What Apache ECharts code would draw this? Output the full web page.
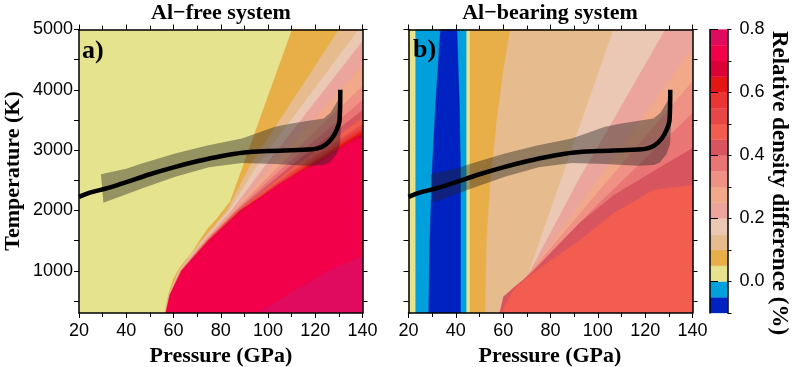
<!DOCTYPE html>
<html><head><meta charset="utf-8">
<script src="https://cdn.jsdelivr.net/npm/echarts@6/dist/echarts.min.js"></script>
<style>html,body{margin:0;padding:0;background:#fff}#c{width:793px;height:367px}</style>
</head><body><div id="c"></div>
<script>
// ---------- colour scale ----------
const cbLevels = [-0.1,-0.05,0,0.05,0.1,0.15,0.2,0.25,0.3,0.35,0.4,0.45,0.5,0.55,0.6,0.65,0.7,0.75,0.8];
const cbColors = ['#0022C0','#00A0DC','#E6E38E','#E8AE48','#E6BC8E','#EAC8B4','#EBA59C','#F1A98A','#EF9184','#E97575','#D8555F','#F35D50','#E84747','#EB3535','#E51515','#DA0035','#F2004A','#E00A5E'];
const cbTickLabels = [0,0.2,0.4,0.6,0.8];
const xTicks = [20,40,60,80,100,120,140];
const yTickLabels = [1000,2000,3000,4000,5000];
const yTicks = [500,1000,1500,2000,2500,3000,3500,4000,4500,5000];

// ---------- panel a (Al-free) contour regions: [pressure GPa, temperature K], value >= level ----------
const aFull   = [[20,300],[140,300],[140,5000],[20,5000]];
const aLv005 = [[110.2,5000],[140,5000],[140,300],[56.3,300],[57.8,600],[59.8,850],[61.8,1000],[64.5,1150],[67.8,1300],[71,1500],[74.5,1700],[78,1850],[81,2000],[84,2150]];
const aLv010 = [[56.4,300],[58.0,600],[62.2,1000],[71.9,1500],[82.6,2000],[92.5,2750],[130,5000],[140,5000],[140,300]];
const aLv015 = [[56.5,300],[58.1,600],[62.45,1000],[72.4,1500],[83.6,2000],[95.5,2750],[138.4,5000],[140,5000],[140,300]];
const aLv020 = [[56.55,300],[58.2,600],[62.7,1000],[72.9,1500],[84.6,2000],[99,2750],[140,4806],[140,300]];
const aLv025 = [[56.6,300],[58.3,600],[62.9,1000],[73.4,1500],[85.4,2000],[102,2750],[140,4409],[140,300]];
const aLv030 = [[56.65,300],[58.35,600],[63.05,1000],[73.7,1500],[86.0,2000],[105,2750],[140,4061],[140,300]];
const aLv035 = [[56.7,300],[58.4,600],[63.2,1000],[74.0,1500],[86.6,2000],[107.5,2750],[140,3829],[140,300]];
const aLv040 = [[56.75,300],[58.45,600],[63.3,1000],[74.3,1500],[87.1,2000],[110,2750],[140,3663],[140,300]];
const aLv045 = [[56.8,300],[58.5,600],[63.4,1000],[74.5,1500],[87.5,2000],[112,2750],[140,3530],[140,300]];
const aLv050 = [[56.85,300],[58.55,600],[63.5,1000],[74.65,1500],[87.8,2000],[114,2750],[140,3431],[140,300]];
const aLv055 = [[56.9,300],[58.6,600],[63.58,1000],[74.85,1500],[88.1,2000],[115.5,2750],[140,3365],[140,300]];
const aLv060 = [[56.93,300],[58.65,600],[63.65,1000],[75.0,1500],[88.4,2000],[117,2750],[140,3315],[140,300]];
const aLv065 = [[56.96,300],[58.7,600],[63.72,1000],[75.15,1500],[88.7,2000],[118.5,2750],[140,3265],[140,300]];
const aLv070 = [[57,300],[58.8,600],[61,800],[63.8,1000],[68,1200],[75.3,1500],[82,1750],[89,2000],[97.5,2230],[104,2420],[114,2650],[120,2750],[128,2950],[134,3120],[140,3216],[140,300]];
const aLv075 = [[95.5,300],[140,300],[140,1240],[127.8,1040],[113.7,735],[104,500]];

// ---------- panel b (Al-bearing) regions, painted in order ----------
const bFull   = [[20,300],[140,300],[140,5000],[20,5000]];
const bNeg005 = [[23,300],[44.4,300],[44.4,5000],[23,5000]];
const bNeg010 = [[28.5,300],[42,300],[42,2700],[41.5,3800],[40.5,5000],[33.5,5000],[31.5,3800],[30,2700],[29,1500]];
const bLv005 = [[46,300],[140,300],[140,5000],[46,5000]];
const bLv010 = [[52.4,300],[140,300],[140,5000],[63,5000],[60,4300],[57.3,3500],[54.5,2400],[53,1500]];
const bLv015 = [[106.6,5000],[140,5000],[140,300],[58.6,300],[60.2,570],[64.5,720],[68.6,850],[70.7,957]];
const bLv020 = [[71,965],[92.5,2550],[106.6,3500],[128.5,5000],[140,5000],[140,300],[58.6,300],[60.2,570],[64.5,720],[68.6,850]];
const bLv025 = [[71.2,970],[100,2500],[140,4690],[140,300],[58.6,300],[60.2,570],[64.5,720],[68.6,850]];
const bLv030 = [[71.5,975],[100,2300],[140,4139],[140,300],[58.6,300],[60.2,570],[64.5,720],[68.6,850]];
const bLv035 = [[72,980],[100,2100],[140,3613],[140,300],[58.6,300],[60.2,570],[64.5,720],[68.6,850]];
const bLv040 = [[72.5,985],[92.5,1800],[106.6,2250],[123.5,2650],[140,3030],[140,300],[58.6,300],[60.2,570],[64.5,720],[68.6,850]];
const bLv045 = [[59.5,300],[140,300],[140,2420],[123.5,2338],[106.6,1952],[92.5,1509],[78.5,1123],[70,880],[64.4,681],[61,450]];

// ---------- geotherm and its uncertainty ----------
const geoP = [20,25,32,40,50,60,70,80,90,100,110,117,121,124,127,129,130.3,130.6];
const geoT = [2225,2300,2370,2470,2600,2715,2815,2900,2960,2985,3000,3010,3030,3080,3190,3330,3500,4000];
const bandUpper = [[29.3,2600],[40,2690],[46.6,2780],[60.7,2945],[74.8,3083],[89,3194],[103,3386],[110,3440],[118,3490],[123.6,3525],[126.5,3620],[129.2,3800],[131.2,3990]];
const bandLower = [[30.3,2127],[46.6,2366],[60.7,2558],[75,2715],[89,2785],[103,2770],[117,2740],[123.6,2752],[126,2790],[129,2930],[130.5,3100],[131,3500]];

const aRegions = [[0,aFull],[0.05,aLv005],[0.1,aLv010],[0.15,aLv015],[0.2,aLv020],[0.25,aLv025],[0.3,aLv030],[0.35,aLv035],[0.4,aLv040],[0.45,aLv045],[0.5,aLv050],[0.55,aLv055],[0.6,aLv060],[0.65,aLv065],[0.7,aLv070],[0.75,aLv075]];
const bRegions = [[0,bFull],[-0.05,bNeg005],[-0.1,bNeg010],[0.05,bLv005],[0.1,bLv010],[0.15,bLv015],[0.2,bLv020],[0.25,bLv025],[0.3,bLv030],[0.35,bLv035],[0.4,bLv040],[0.45,bLv045]];

function colorOf(lv){ return cbColors[Math.round((lv + 0.1) / 0.05)]; }

function regionSeries(regs, ai){
  return {type:'custom', xAxisIndex:ai, yAxisIndex:ai, clip:true, silent:true, z:1,
    data: regs.map((r,i)=>[r[1][0][0], r[1][0][1], i]),
    renderItem:(params, api)=>{
      const r = regs[api.value(2)];
      return {type:'polygon', shape:{points:r[1].map(q=>api.coord(q))}, style:{fill:colorOf(r[0]), stroke:colorOf(r[0]), lineWidth:0.3}};
    }};
}
function bandSeries(ai){
  const pts = bandUpper.concat(bandLower.slice().reverse());
  return {type:'custom', xAxisIndex:ai, yAxisIndex:ai, clip:true, silent:true, z:3,
    data:[[pts[0][0],pts[0][1]]],
    renderItem:(params, api)=>({type:'polygon', shape:{points:pts.map(q=>api.coord(q))}, style:{fill:'rgba(35,35,35,0.42)'}})};
}
function lineSeries(ai){
  return {type:'line', xAxisIndex:ai, yAxisIndex:ai, z:4, silent:true, showSymbol:false, smooth:0.35,
    data: geoP.map((p,i)=>[p,geoT[i]]), lineStyle:{color:'#000', width:4.5}};
}

const axLine = {show:true, lineStyle:{color:'#000', width:1.5}};
const lblFont = {fontFamily:'Liberation Sans', fontSize:18, color:'#000'};
function xAx(gi, pos, labels){
  return {type:'value', gridIndex:gi, position:pos, min:20, max:140, interval:20, z:10,
    axisLine:axLine, splitLine:{show:false},
    axisTick:{show:true, length:5, lineStyle:{color:'#000', width:1}},
    minorTick:{show:true, splitNumber:2, length:4, lineStyle:{color:'#000', width:1}},
    axisLabel:Object.assign({show:labels, margin:9, formatter:v=>String(v)}, lblFont)};
}
function yAx(gi, pos, labels){
  return {type:'value', gridIndex:gi, position:pos, min:300, max:5000, z:10,
    axisLine:axLine, splitLine:{show:false},
    axisTick:{show:true, length:5, customValues:yTicks, lineStyle:{color:'#000', width:1}},
    axisLabel:Object.assign({show:labels, margin:6, customValues:yTickLabels, formatter:v=>String(v)}, lblFont)};
}

const option = {
  animation:false,
  grid:[
    {left:79, top:29.5, width:283.5, height:283.5},
    {left:408.5, top:29.5, width:284, height:283.5},
    {left:710, top:29.5, width:17.5, height:283.5}
  ],
  xAxis:[
    xAx(0,'bottom',true), xAx(0,'top',false), xAx(1,'bottom',true), xAx(1,'top',false),
    {type:'value', gridIndex:2, min:0, max:1, show:false}
  ],
  yAxis:[
    yAx(0,'left',true), yAx(0,'right',false), yAx(1,'left',false), yAx(1,'right',false),
    {type:'value', gridIndex:2, position:'right', min:-0.1, max:0.8, z:10,
      axisLine:axLine, splitLine:{show:false},
      axisTick:{show:true, length:8, customValues:cbTickLabels, lineStyle:{color:'#000', width:1}},
      axisLabel:Object.assign({margin:12, customValues:cbTickLabels, formatter:v=>v.toFixed(1)}, lblFont)},
    {type:'value', gridIndex:2, position:'right', min:-0.1, max:0.8, interval:0.1, z:10,
      axisLine:axLine, splitLine:{show:false},
      axisTick:{show:true, length:4, lineStyle:{color:'#000', width:1}},
      axisLabel:{show:false}}
  ],
  series:[
    regionSeries(aRegions,0), bandSeries(0), lineSeries(0),
    regionSeries(bRegions,2), bandSeries(2), lineSeries(2),
    {type:'custom', xAxisIndex:4, yAxisIndex:4, silent:true,
      data: cbColors.map((c,i)=>[0, cbLevels[i], cbLevels[i+1], i]),
      renderItem:(params, api)=>{
        const p0 = api.coord([0, api.value(1)]), p1 = api.coord([1, api.value(2)]);
        return {type:'rect', shape:{x:p0[0], y:p1[1], width:p1[0]-p0[0], height:p0[1]-p1[1]}, style:{fill:cbColors[api.value(3)], stroke:cbColors[api.value(3)], lineWidth:0.3}};
      }}
  ],
  graphic:[
    {type:'text', x:221, y:13, style:{text:'Al\u2212free system', font:'bold 22px "Liberation Serif"', fill:'#000', align:'center', verticalAlign:'middle'}},
    {type:'text', x:550, y:13, style:{text:'Al\u2212bearing system', font:'bold 22px "Liberation Serif"', fill:'#000', align:'center', verticalAlign:'middle'}},
    {type:'text', x:82, y:51, z:20, style:{text:'a)', font:'bold 26px "Liberation Serif"', fill:'#000', align:'left', verticalAlign:'middle'}},
    {type:'text', x:413, y:50, z:20, style:{text:'b)', font:'bold 26px "Liberation Serif"', fill:'#000', align:'left', verticalAlign:'middle'}},
    {type:'text', x:221, y:356, style:{text:'Pressure (GPa)', font:'bold 22px "Liberation Serif"', fill:'#000', align:'center', verticalAlign:'middle'}},
    {type:'text', x:550, y:356, style:{text:'Pressure (GPa)', font:'bold 22px "Liberation Serif"', fill:'#000', align:'center', verticalAlign:'middle'}},
    {type:'text', x:13, y:171, rotation:Math.PI/2, style:{text:'Temperature (K)', font:'bold 22px "Liberation Serif"', fill:'#000', align:'center', verticalAlign:'middle'}},
    {type:'text', x:779, y:183, rotation:-Math.PI/2, style:{text:'Relative density difference (%)', font:'bold 23px "Liberation Serif"', fill:'#000', align:'center', verticalAlign:'middle'}}
  ]
};
const chart = echarts.init(document.getElementById('c'), null, {renderer:'canvas'});
chart.setOption(option);
</script></body></html>
